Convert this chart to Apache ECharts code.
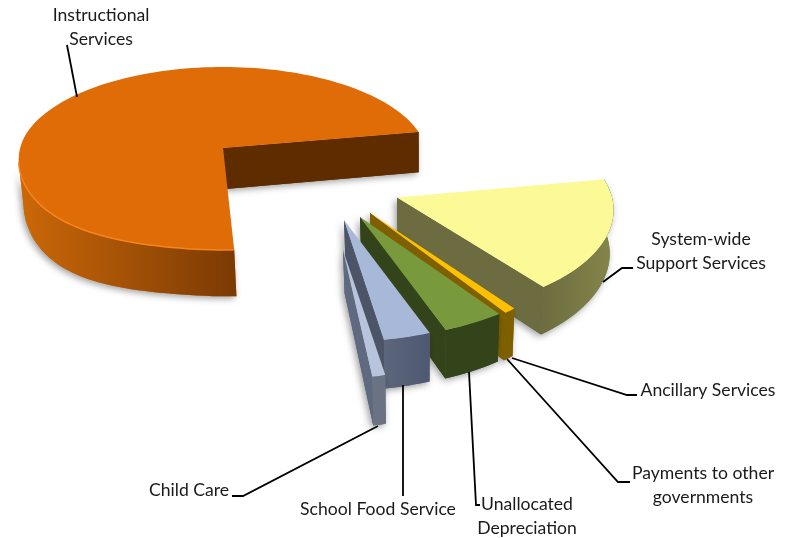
<!DOCTYPE html>
<html>
<head>
<meta charset="utf-8">
<style>html,body{margin:0;padding:0;background:#fff}#chart{width:794px;height:538px}</style>
<script src="https://cdn.jsdelivr.net/npm/echarts@6/dist/echarts.min.js"></script>
</head>
<body>
<div id="chart"></div>
<script>
// Spending shares, percent of the total, clockwise from the front of the pie.
var categories = ['Instructional Services', 'System-wide Support Services', 'Ancillary Services',
  'Unallocated Depreciation', 'School Food Service', 'Child Care'];
var shares = [72.9, 17.3, 0.8, 4.1, 3.1, 1.8];

// Angle (degrees, clockwise from 3 o'clock) at which the first slice begins.
var START_ANGLE = 87.2;
var VANISH_X = 420;          // bottom faces converge toward this x
var WALL_LIMIT = 172;        // past this angle the large slice's outer wall turns out of view

// Where each exploded wedge sits, and how the perspective flattens it.
var wedges = [
  {cx: 223, cy: 148,   sx: 203, sy: 90.3, k: 0.1147, h: 41, skew: 0, shrink: 0.012, sag: 5.5, sagBottom: 5},
  {cx: 397, cy: 197.5, sx: 215, sy: 103,  k: 0.12,   h: 43, skew: 0, shrink: 0.02, sag: 0, sagBottom: 0},
  {cx: 370, cy: 213,   sx: 212, sy: 110,  k: 0.12,   h: 43, skew: 0, shrink: 0.02, sag: 0, sagBottom: 0},
  {cx: 360, cy: 217,   sx: 218, sy: 107,  k: 0.12,   h: 43, skew: 0, shrink: 0.02, sag: 0, sagBottom: 0},
  {cx: 344, cy: 220,   sx: 218, sy: 107,  k: 0.12,   h: 43, skew: 0, shrink: 0.02, sag: 0, sagBottom: 0},
  {cx: 343, cy: 250,   sx: 104, sy: 111.5,k: 0.12,   h: 43, skew: 0.186, shrink: 0.02, sag: 0, sagBottom: 0}
];
var skins = [
  {top: '#e06c08', cut: '#5f2c00', rim: ['#cc6808', '#7a3a04'], edge: '#f5851e'},
  {top: '#fbfa96', cut: '#6c6c40', rim: ['#6c6c40', '#85864a'], edge: null},
  {top: '#ffc000', cut: '#7f6000', rim: ['#7f6000', '#7f6000'], edge: null},
  {top: '#789a3c', cut: '#34441a', rim: ['#34441a', '#34441a'], edge: null},
  {top: '#a8b8d9', cut: '#4c5468', rim: ['#5c667c', '#4e5870'], edge: null},
  {top: '#b8c4dc', cut: '#5f6a80', rim: ['#6a7284', '#6a7284'], edge: null}
];

// Text blocks and the leader lines tying them to the slices.
var labels = [
  {text: 'Instructional\nServices', x: 101, y: 27},
  {text: 'System-wide\nSupport Services', x: 701, y: 251.5},
  {text: 'Ancillary Services', x: 708, y: 390},
  {text: 'Payments to other\ngovernments', x: 703, y: 485.5},
  {text: 'Unallocated\nDepreciation', x: 527, y: 516},
  {text: 'School Food Service', x: 378, y: 509},
  {text: 'Child Care', x: 189, y: 490}
];
var leaders = [
  [[67, 45], [77, 97]],
  [[603, 282], [622, 268], [633, 268]],
  [[512, 358], [627, 395], [637, 395]],
  [[507, 359], [618, 482], [630, 482]],
  [[469, 372], [476, 505], [480, 505]],
  [[403, 385], [403, 496]],
  [[378, 426], [243, 496], [232, 496]]
];

var total = shares.reduce(function (a, b) { return a + b; }, 0);

function rad(d) { return d * Math.PI / 180; }

// Extra droop of the near-left rim, 0 outside that arc.
function droop(deg) {
  if (deg <= 95 || deg >= 190) return 0;
  var s = Math.sin((deg - 95) / 95 * Math.PI);
  return s * s;
}
// Point on the top plane at parametric angle deg and radius r (0 = apex).
function topPoint(w, deg, r) {
  var X = r * Math.cos(rad(deg)), Y = r * Math.sin(rad(deg));
  var d = 1 - w.k * Y;
  var dy = w.sy * Y / d;
  var bump = r * droop(deg);
  return {x: w.cx + w.sx * X / d + w.skew * dy, y: w.cy + dy + w.sag * bump, d: d, bump: bump};
}
function toArr(p) { return [p.x, p.y]; }
// Same point dropped onto the bottom plane.
function bottomPoint(w, p) {
  return [p.x + (VANISH_X - p.x) * w.shrink, p.y + w.h / p.d + w.sagBottom * p.bump];
}

function arc(w, a1, a2) {
  var pts = [], n = Math.max(2, Math.ceil((a2 - a1) / 2));
  for (var i = 0; i <= n; i++) pts.push(topPoint(w, a1 + (a2 - a1) * i / n, 1));
  return pts;
}
function poly(points, style) {
  return {type: 'polygon', shape: {points: points}, style: style, silent: true};
}

function softShadow(fill) {
  return {fill: fill, shadowBlur: 7, shadowColor: 'rgba(0,0,0,0.4)', shadowOffsetX: -2, shadowOffsetY: 2};
}

function renderWedge(params, api) {
  var i = params.dataIndex;
  var before = 0;
  for (var j = 0; j < i; j++) before += shares[j];
  var a1 = START_ANGLE + before / total * 360;
  var a2 = a1 + api.value(0) / total * 360;
  var w = wedges[i], s = skins[i];
  var apex = topPoint(w, 0, 0);

  // the cut face on the trailing edge of the wedge
  var trail = topPoint(w, a2, 1);
  var cutPts = [toArr(apex), toArr(trail), bottomPoint(w, trail), bottomPoint(w, apex)];

  // the curved outer wall, front-facing portion only
  var hi = a1 < WALL_LIMIT ? Math.min(a2, WALL_LIMIT) : a2;
  var rimPts = arc(w, a1, hi);
  var wallPts = rimPts.map(toArr).concat(rimPts.slice().reverse().map(function (p) { return bottomPoint(w, p); }));

  var cut = poly(cutPts, {fill: s.cut});
  var wall = poly(wallPts, {
    fill: new echarts.graphic.LinearGradient(0, 0, 1, 0, [
      {offset: 0, color: s.rim[0]}, {offset: 1, color: s.rim[1]}
    ])
  });

  // the top face
  var topPts = [toArr(apex)].concat(arc(w, a1, a2).map(toArr));
  var top = poly(topPts, {fill: s.top});

  // soft shadows sit under the faces so no seam shows between them
  var children = [poly(cutPts, softShadow(s.cut)), poly(wallPts, softShadow(s.rim[0])), cut, wall, top];
  if (s.edge) {
    children.push({type: 'polyline', shape: {points: rimPts.map(toArr)}, silent: true,
      style: {stroke: s.edge, lineWidth: 1.5, fill: null}});
  }
  return {type: 'group', children: children};
}

var graphics = leaders.map(function (pts) {
  return {type: 'polyline', shape: {points: pts}, silent: true, z: 20,
    style: {stroke: '#000', lineWidth: 1.8, fill: null}};
}).concat(labels.map(function (l) {
  return {type: 'text', x: l.x, y: l.y, silent: true, z: 21,
    style: {text: l.text, fill: '#1a1a1a', font: '17.6px Lato', lineHeight: 24, align: 'center', verticalAlign: 'middle'}};
}));

var chart = echarts.init(document.getElementById('chart'), null, {renderer: 'canvas'});
chart.setOption({
  animation: false,
  backgroundColor: '#ffffff',
  graphic: graphics,
  series: [{
    type: 'custom',
    coordinateSystem: 'none',
    silent: true,
    data: shares.map(function (v, i) { return {name: categories[i], value: [v]}; }),
    renderItem: renderWedge
  }]
});
</script>
</body>
</html>
